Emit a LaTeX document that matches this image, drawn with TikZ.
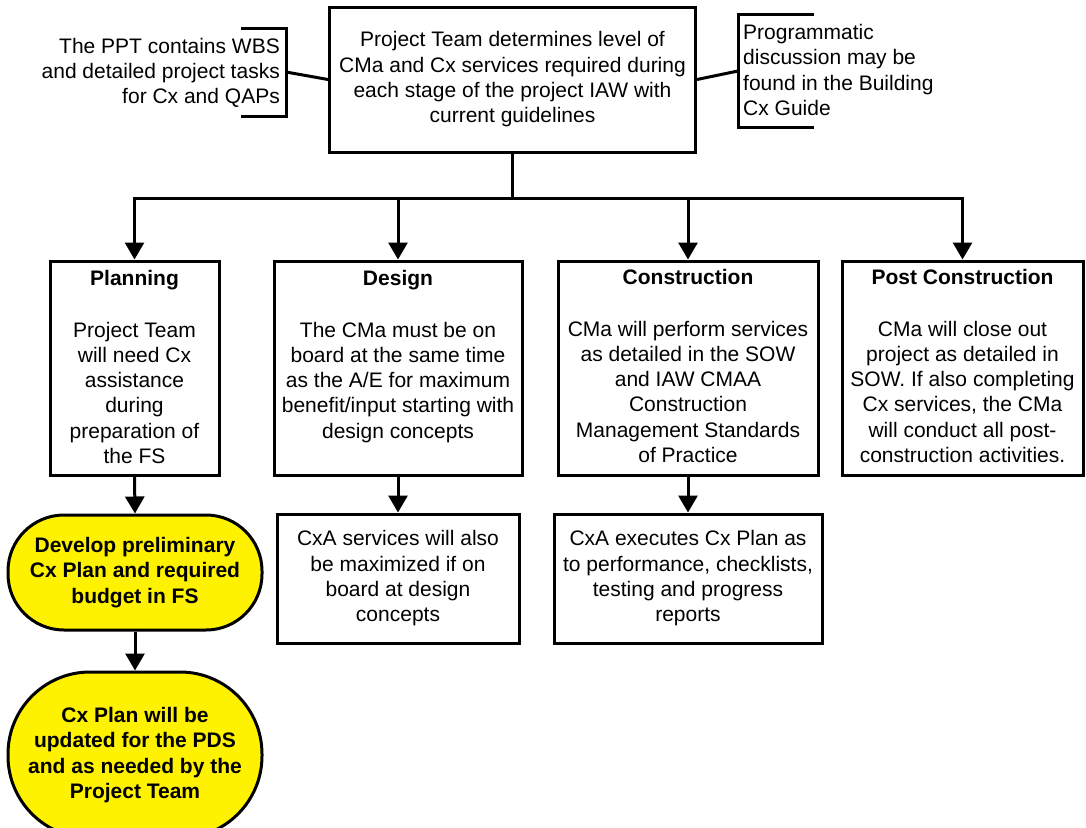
\documentclass[tikz,border=0pt]{standalone}
\usepackage{fontspec}
\setmainfont{Liberation Sans}
\usetikzlibrary{arrows.meta}
\begin{document}
\begin{tikzpicture}[x=1pt,y=-1pt,
  every node/.style={font=\fontsize{21}{25.3}\selectfont, text=black},
  ln/.style={line width=3pt, line join=miter},
  box/.style={draw, line width=3pt, fill=white},
  ybox/.style={draw, line width=3pt, fill=yellow, minimum width=254pt, inner sep=0pt, align=center, font=\fontsize{21}{25.3}\selectfont\bfseries},
  arr/.style={line width=3pt, -{Triangle[width=19pt,length=17pt]}}]
\useasboundingbox (0,0) rectangle (1086,827);
\clip (0,0) rectangle (1086,827);

% top box
\node[box, minimum width=366pt, minimum height=145pt, align=center] (top) at (512.5,79.5)
  {Project Team determines level of\\CMa and Cx services required during\\each stage of the project IAW with\\current guidelines};

% left annotation
\node[anchor=east, align=right, inner sep=0pt] (lnote) at (280,73)
  {The PPT contains WBS\\and detailed project tasks\\for Cx and QAPs};
\draw[ln] (241,28) -- (286,28) -- (286,116) -- (241,116);
\coordinate (lb) at (286,72);
\draw[ln] (lb) -- (top.west);

% right annotation
\node[anchor=west, align=left, inner sep=0pt] (rnote) at (743,70)
  {Programmatic\\discussion may be\\found in the Building\\Cx Guide};
\draw[ln] (814,14) -- (738,14) -- (738,127) -- (814,127);
\coordinate (rb) at (738,71);
\draw[ln] (top.east) -- (rb);

% stage boxes
\node[box, minimum width=169pt, minimum height=214pt] (plan) at (134.5,368) {};
\node[box, minimum width=248pt, minimum height=214pt] (des) at (398,368) {};
\node[box, minimum width=260pt, minimum height=214pt] (con) at (688,368) {};
\node[box, minimum width=241pt, minimum height=214pt] (post) at (962.5,368) {};

\node[anchor=base, inner sep=0pt] (planT) at (134.5,285) {\parbox[t]{165pt}{\centering\textbf{Planning}\\[26.7pt]Project Team\\will need Cx\\assistance\\during\\preparation of\\the FS}};
\node[anchor=base, inner sep=0pt] (desT) at (398,285) {\parbox[t]{244pt}{\centering\textbf{Design}\\[26.7pt]The CMa must be on\\board at the same time\\as the A/E for maximum\\benefit/input starting with\\design concepts}};
\node[anchor=base, inner sep=0pt] (conT) at (688,284) {\parbox[t]{256pt}{\centering\textbf{Construction}\\[26.7pt]CMa will perform services\\as detailed in the SOW\\and IAW CMAA\\Construction\\Management Standards\\of Practice}};
\node[anchor=base, inner sep=0pt] (postT) at (962.5,284) {\parbox[t]{238pt}{\centering\textbf{Post Construction}\\[26.7pt]CMa will close out\\project as detailed in\\SOW. If also completing\\Cx services, the CMa\\will conduct all post-\\construction activities.}};

% bus
\coordinate (bus) at (512.5,198);
\draw[ln] (top.south) -- (bus);
\draw[arr] (bus) -| (plan.north);
\draw[arr] (bus) -| (des.north);
\draw[arr] (bus) -| (con.north);
\draw[arr] (bus) -| (post.north);

% lower boxes
\node[box, minimum width=242pt, minimum height=129pt, align=center] (desL) at (398,578.5)
  {CxA services will also\\be maximized if on\\board at design\\concepts};
\node[box, minimum width=268pt, minimum height=129pt, align=center] (conL) at (688,578.5)
  {CxA executes Cx Plan as\\to performance, checklists,\\testing and progress\\reports};
\draw[arr] (des.south) -- (desL.north);
\draw[arr] (con.south) -- (conL.north);

% yellow terminators
\node[ybox, minimum height=115pt, rounded corners=56pt] (y1) at (135,572.5)
  {Develop preliminary\\Cx Plan and required\\budget in FS};
\node[ybox, minimum height=166pt, rounded corners=82pt] (y2) at (135,755)
  {Cx Plan will be\\updated for the PDS\\and as needed by the\\Project Team};
\draw[arr] (plan.south) -- (y1.north);
\draw[arr] (y1.south) -- (y2.north);
\end{tikzpicture}
\end{document}
